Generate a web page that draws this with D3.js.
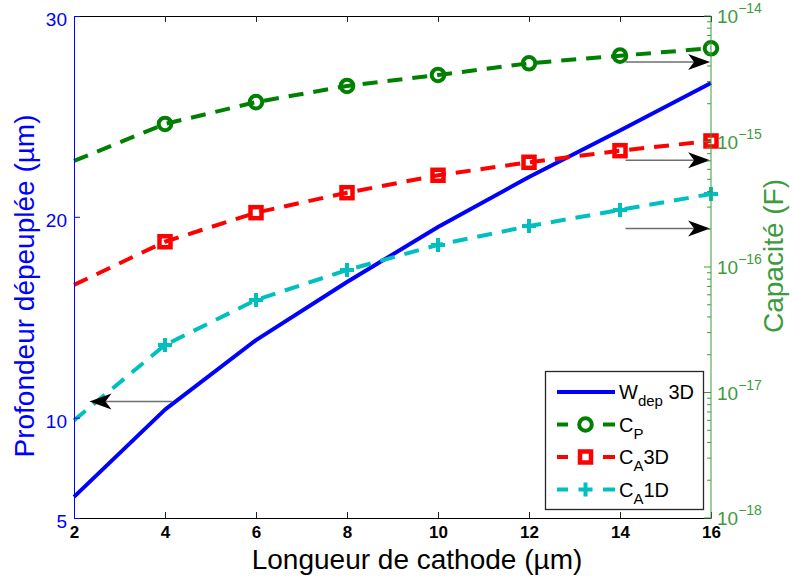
<!DOCTYPE html>
<html>
<head>
<meta charset="utf-8">
<script src="https://cdn.jsdelivr.net/npm/d3@7"></script>
<style>
  body { margin: 0; background: #fff; }
  svg { display: block; font-family: "Liberation Sans", Arial, sans-serif; }
</style>
</head>
<body>
<div id="chart"></div>
<script>
// data
var xVals = [2, 4, 6, 8, 10, 12, 14, 16];
var wdep3D = [6.05, 10.4, 13.86, 16.75, 19.49, 21.98, 24.3, 26.66];
var cP = [7.0e-16, 1.38e-15, 2.06e-15, 2.77e-15, 3.39e-15, 4.2e-15, 4.83e-15, 5.53e-15];
var cA3D = [7.2e-17, 1.59e-16, 2.71e-16, 3.91e-16, 5.38e-16, 6.83e-16, 8.45e-16, 1.01e-15];
var cA1D = [6.0e-18, 2.39e-17, 5.46e-17, 9.46e-17, 1.5e-16, 2.12e-16, 2.85e-16, 3.82e-16];

var xTicks = [2, 4, 6, 8, 10, 12, 14, 16];
var leftTicks = [5, 10, 20, 30];
var rightTicks = [1e-18, 1e-17, 1e-16, 1e-15, 1e-14];

// annotation arrows (data coords)
var arrowsRight = [
    { x0: 14.12, x1: 15.98, y: 4.3e-15 },
    { x0: 14.12, x1: 15.98, y: 7.1e-16 },
    { x0: 14.12, x1: 15.98, y: 2.03e-16 }
];
var arrowsLeft = [
    { x0: 4.15, x1: 2.34, y: 10.8 }
];

var W = 792, H = 581;
var plot = { left: 74, right: 711, top: 16, bottom: 518 };
var blue = "#0000ff", green = "#008000", red = "#ff0000", cyan = "#00bfbf";
var axisGreen = "#3d9b3d";

var svg = d3.select("#chart").append("svg")
    .attr("width", W)
    .attr("height", H);

var x = d3.scaleLinear().domain([2, 16]).range([plot.left, plot.right]);
var yL = d3.scaleLinear().domain([5, 30]).range([plot.bottom, plot.top]);
var yR = d3.scaleLog().domain([1e-18, 1e-14]).range([plot.bottom, plot.top]);

var pts = function (vals) {
    return xVals.map(function (d, i) { return [d, vals[i]]; });
};

// blue depletion depth (left axis)
svg.append("path")
    .datum(pts(wdep3D))
    .attr("fill", "none")
    .attr("stroke", blue)
    .attr("stroke-width", 4)
    .attr("stroke-linejoin", "round")
    .attr("d", d3.line().x(function (d) { return x(d[0]); }).y(function (d) { return yL(d[1]); }));

// capacitance series (right axis)
var series = [
    { vals: cP, color: green, marker: "circle" },
    { vals: cA3D, color: red, marker: "square" },
    { vals: cA1D, color: cyan, marker: "plus" }
];
var lineR = d3.line().x(function (d) { return x(d[0]); }).y(function (d) { return yR(d[1]); });

function drawMarker(g, type, cx, cy, color) {
    if (type == "circle") {
        g.append("circle").attr("cx", cx).attr("cy", cy).attr("r", 6.3)
            .attr("fill", "none").attr("stroke", color).attr("stroke-width", 4);
    } else if (type == "square") {
        g.append("rect").attr("x", cx - 5.5).attr("y", cy - 5.5).attr("width", 11).attr("height", 11)
            .attr("fill", "none").attr("stroke", color).attr("stroke-width", 4.5);
    } else {
        g.append("path").attr("d", "M" + (cx - 7) + "," + cy + "H" + (cx + 7) + "M" + cx + "," + (cy - 7) + "V" + (cy + 7))
            .attr("stroke", color).attr("stroke-width", 4);
    }
}

series.forEach(function (s) {
    svg.append("path")
        .datum(pts(s.vals))
        .attr("fill", "none")
        .attr("stroke", s.color)
        .attr("stroke-width", 4)
        .attr("stroke-dasharray", "15,10")
        .attr("d", lineR);
    var g = svg.append("g");
    // markers on every point except the first
    pts(s.vals).slice(1).forEach(function (d) {
        drawMarker(g, s.marker, x(d[0]), yR(d[1]), s.color);
    });
});

// arrows
function arrow(xs, xe, yy) {
    var dir = xe > xs ? 1 : -1;
    var notch = xe - dir * 16;
    svg.append("line")
        .attr("x1", xs).attr("x2", notch).attr("y1", yy).attr("y2", yy)
        .attr("stroke", "#6e6e6e").attr("stroke-width", 1.5);
    svg.append("path")
        .attr("d", "M" + xe + "," + yy + "L" + (xe - dir * 22) + "," + (yy - 8) +
            "L" + notch + "," + yy + "L" + (xe - dir * 22) + "," + (yy + 8) + "Z")
        .attr("fill", "#000");
}
arrowsRight.forEach(function (a) { arrow(x(a.x0), x(a.x1), yR(a.y)); });
arrowsLeft.forEach(function (a) { arrow(x(a.x0), x(a.x1), yL(a.y)); });

// bottom & top axes
var xAxis = svg.append("g").attr("transform", "translate(0," + plot.bottom + ")")
    .call(d3.axisBottom(x).tickValues(xTicks).tickSizeInner(-6).tickSizeOuter(0).tickPadding(8));
xAxis.select(".domain").attr("stroke", "#000");
xAxis.selectAll(".tick line").attr("stroke", "#222");
xAxis.selectAll("text").attr("font-size", 17).attr("font-weight", "bold").attr("fill", "#000")
    .attr("font-family", "Liberation Sans, Arial, sans-serif");

var topAxis = svg.append("g").attr("transform", "translate(0," + plot.top + ")")
    .call(d3.axisTop(x).tickValues(xTicks).tickSizeInner(-6).tickSizeOuter(0).tickFormat(""));
topAxis.select(".domain").attr("stroke", "#000");
topAxis.selectAll(".tick line").attr("stroke", "#222");

// left axis
var lAxis = svg.append("g").attr("transform", "translate(" + plot.left + ",0)")
    .call(d3.axisLeft(yL).tickValues(leftTicks).tickSizeInner(-6).tickSizeOuter(0).tickPadding(7));
lAxis.select(".domain").attr("stroke", blue);
lAxis.selectAll(".tick line").attr("stroke", blue);
lAxis.selectAll("text").attr("font-size", 19).attr("fill", blue).attr("dy", "0.5em")
    .attr("font-family", "Liberation Sans, Arial, sans-serif");

// right axis (log)
var minor = [];
for (var e = -18; e < -14; e++) {
    for (var k = 2; k < 10; k++) minor.push(k * Math.pow(10, e));
}
var rAxis = svg.append("g").attr("transform", "translate(" + plot.right + ",0)");
rAxis.append("line").attr("y1", plot.top).attr("y2", plot.bottom).attr("stroke", axisGreen);
rAxis.selectAll("line.minor").data(minor).enter().append("line")
    .attr("class", "minor")
    .attr("x1", -4).attr("x2", 0)
    .attr("y1", function (d) { return yR(d); }).attr("y2", function (d) { return yR(d); })
    .attr("stroke", axisGreen);
rAxis.selectAll("line.major").data(rightTicks).enter().append("line")
    .attr("class", "major")
    .attr("x1", -7).attr("x2", 0)
    .attr("y1", function (d) { return yR(d); }).attr("y2", function (d) { return yR(d); })
    .attr("stroke", axisGreen);
var rLab = rAxis.selectAll("text.lab").data(rightTicks).enter().append("text")
    .attr("class", "lab")
    .attr("x", 6)
    .attr("y", function (d) { return yR(d) + 7; })
    .attr("fill", axisGreen)
    .attr("font-size", 19);
rLab.append("tspan").text("10");
rLab.append("tspan").attr("dy", -10).attr("font-size", 14)
    .text(function (d) { return "\u2212" + Math.round(-Math.log10(d)); });

// axis titles
svg.append("text")
    .attr("x", 417).attr("y", 569)
    .attr("text-anchor", "middle")
    .attr("font-size", 28)
    .attr("fill", "#000")
    .text("Longueur de cathode (\u00b5m)");

svg.append("text")
    .attr("transform", "translate(34,286) rotate(-90)")
    .attr("text-anchor", "middle")
    .attr("font-size", 28)
    .attr("fill", blue)
    .text("Profondeur dépeuplée (\u00b5m)");

svg.append("text")
    .attr("transform", "translate(783,256) rotate(-90)")
    .attr("text-anchor", "middle")
    .attr("font-size", 28)
    .attr("fill", axisGreen)
    .text("Capacité (F)");

// legend
var legendItems = [
    { main: "W", sub: "dep", tail: " 3D", color: blue, marker: null },
    { main: "C", sub: "P", tail: "", color: green, marker: "circle" },
    { main: "C", sub: "A", tail: "3D", color: red, marker: "square" },
    { main: "C", sub: "A", tail: "1D", color: cyan, marker: "plus" }
];
var leg = svg.append("g");
leg.append("rect")
    .attr("x", 545.5).attr("y", 371.5).attr("width", 158).attr("height", 138)
    .attr("fill", "#fff").attr("stroke", "#262626").attr("stroke-width", 1.3);
legendItems.forEach(function (it, i) {
    var cy = 392 + i * 32.5;
    if (it.marker == null) {
        leg.append("line").attr("x1", 557).attr("x2", 615).attr("y1", cy).attr("y2", cy)
            .attr("stroke", it.color).attr("stroke-width", 4);
    } else {
        leg.append("line").attr("x1", 557).attr("x2", 568).attr("y1", cy).attr("y2", cy)
            .attr("stroke", it.color).attr("stroke-width", 4);
        leg.append("line").attr("x1", 603).attr("x2", 615).attr("y1", cy).attr("y2", cy)
            .attr("stroke", it.color).attr("stroke-width", 4);
        drawMarker(leg, it.marker, 585.5, cy, it.color);
    }
    var t = leg.append("text").attr("x", 619).attr("y", cy + 7).attr("font-size", 20).attr("fill", "#000");
    t.append("tspan").text(it.main);
    t.append("tspan").attr("dy", 7).attr("font-size", 15).text(it.sub);
    if (it.tail) t.append("tspan").attr("dy", -7).text(it.tail);
});
</script>
</body>
</html>
